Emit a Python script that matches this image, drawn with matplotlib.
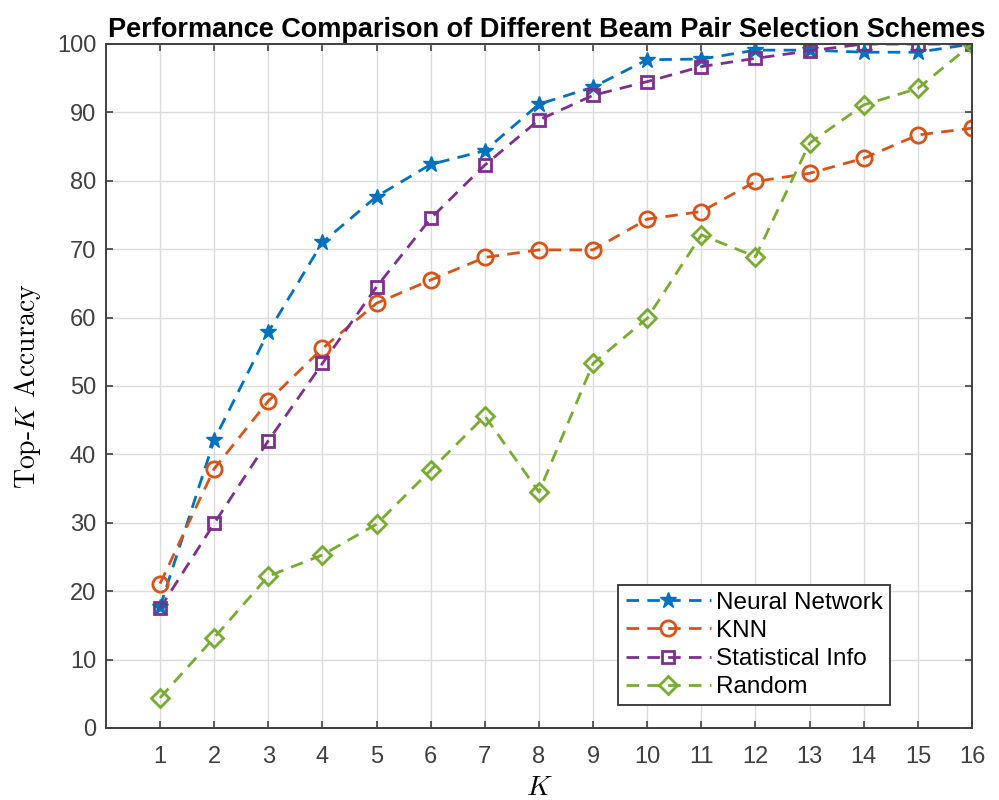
import matplotlib
matplotlib.use('Agg')
import matplotlib.pyplot as plt

plt.rcParams['font.family'] = ['Liberation Sans', 'DejaVu Sans']
plt.rcParams['mathtext.fontset'] = 'cm'

k_vals = list(range(1, 17))
nn_acc = [17.7, 42.1, 57.9, 71.0, 77.7, 82.4, 84.4, 91.2, 93.7, 97.7, 97.8, 99.1, 99.1, 98.8, 98.8, 100.0]
knn_acc = [21.1, 37.9, 47.8, 55.5, 62.1, 65.5, 68.8, 69.9, 69.9, 74.4, 75.5, 79.9, 81.1, 83.3, 86.7, 87.7]
stat_acc = [17.5, 29.9, 42.0, 53.3, 64.5, 74.5, 82.3, 88.9, 92.5, 94.5, 96.7, 97.9, 99.0, 100.0, 100.0, 100.0]
rand_acc = [4.4, 13.2, 22.2, 25.3, 29.8, 37.7, 45.6, 34.5, 53.3, 59.9, 72.1, 68.9, 85.5, 91.1, 93.5, 100.0]
names = ['Neural Network', 'KNN', 'Statistical Info', 'Random']
y_ticks = list(range(0, 101, 10))

fig = plt.figure(figsize=(9.99, 8), dpi=100)
ax = fig.add_axes([0.106, 0.09, 0.867, 0.855])

dash = (0, (4.5, 3))
ax.plot(k_vals, nn_acc, ls=dash, color='#0072BD', marker='*', ms=12, lw=2, label=names[0])
ax.plot(k_vals, knn_acc, ls=dash, color='#D95319', marker='o', ms=11, mfc='none', mew=2, lw=2, label=names[1])
ax.plot(k_vals, stat_acc, ls=dash, color='#7E2F8E', marker='s', ms=9, mfc='none', mew=2, lw=2, label=names[2])
ax.plot(k_vals, rand_acc, ls=dash, color='#77AC30', marker='D', ms=9, mfc='none', mew=2, lw=2, label=names[3])

ax.set_xlim(0, 16)
ax.set_ylim(0, 100)
ax.set_xticks(k_vals)
ax.set_yticks(y_ticks)
ax.grid(True, color='#dcdcdc', lw=1)
ax.set_axisbelow(True)
ax.tick_params(direction='in', top=True, right=True, labelsize=17, colors='#404040',
               length=5, width=1.2)
ax.tick_params(axis='x', pad=13)
ax.tick_params(axis='y', pad=7)
for s in ax.spines.values():
    s.set_color('#404040')
    s.set_linewidth(1.4)

ax.set_title('Performance Comparison of Different Beam Pair Selection Schemes',
             fontsize=19.5, fontweight='bold', pad=5, x=0.509)
ax.set_xlabel(r'$K$', fontsize=20, labelpad=5)
ax.set_ylabel(r'Top-$K$ Accuracy', fontsize=20, family='cmr10', labelpad=10)

leg = ax.legend(loc='lower right', bbox_to_anchor=(0.905, 0.033), fontsize=17.5,
                handlelength=3.5, fancybox=False, framealpha=1, edgecolor='#404040',
                borderpad=0.3, labelspacing=0.25, handletextpad=0.2, borderaxespad=0)
leg.get_frame().set_linewidth(1.4)

fig.savefig('out.png', dpi=100)
